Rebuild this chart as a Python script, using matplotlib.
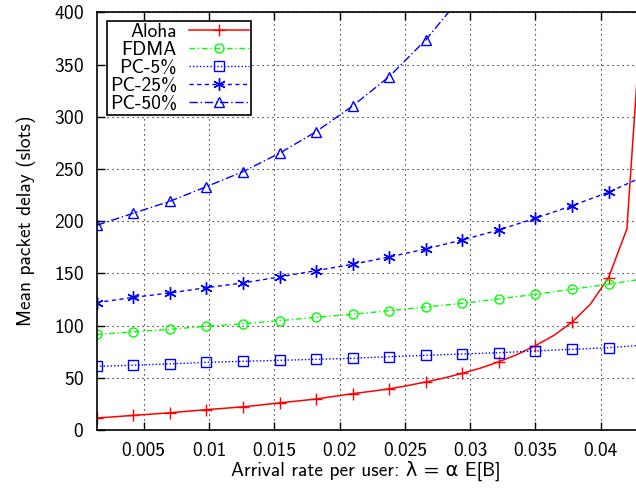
import matplotlib
matplotlib.use("Agg")
import matplotlib.pyplot as plt

plt.rcParams['font.family'] = ['cmss10', 'DejaVu Sans']
plt.rcParams['axes.formatter.use_mathtext'] = True
plt.rcParams['axes.unicode_minus'] = False

# arrival rate (x) for the marked points
rate = [0.0014, 0.0042, 0.0070, 0.0098, 0.0126, 0.0154, 0.0182, 0.0210,
        0.0238, 0.0266, 0.0294, 0.0322, 0.0350, 0.0378, 0.0406, 0.0434]

# Aloha is drawn on a finer grid (markers on every other point)
aloha_rate = [0.0014, 0.0028, 0.0042, 0.0056, 0.0070, 0.0084, 0.0098, 0.0112,
              0.0126, 0.0140, 0.0154, 0.0168, 0.0182, 0.0196, 0.0210, 0.0224,
              0.0238, 0.0252, 0.0266, 0.0280, 0.0294, 0.0308, 0.0322, 0.0336,
              0.0350, 0.0364, 0.0378, 0.0392, 0.0406, 0.0420, 0.0434]
aloha = [11.5, 12.7, 14.0, 15.2, 16.5, 18.0, 19.5, 20.8, 22.2, 24.0, 26.0,
         27.8, 29.7, 32.2, 34.8, 37.0, 39.4, 42.5, 46.0, 49.8, 54.3, 59.3,
         65.4, 72.3, 80.8, 90.5, 103.2, 120.4, 146.0, 192.5, 450.0]

fdma = [91.5, 94.0, 96.4, 99.4, 101.7, 104.7, 107.9, 110.8, 114.2, 117.8,
        121.3, 125.5, 130.0, 134.8, 139.6, 145.0]
pc5 = [61.0, 62.0, 63.3, 64.8, 65.8, 66.7, 67.7, 68.7, 70.2, 71.5, 72.8,
       74.0, 75.7, 77.3, 78.8, 81.5]
pc25 = [122.0, 127.0, 131.2, 136.3, 140.8, 146.6, 152.6, 158.7, 165.7, 173.4,
        182.0, 191.6, 202.8, 214.8, 227.7, 243.5]
pc50 = [196.0, 207.6, 219.0, 233.0, 247.4, 265.0, 285.7, 310.3, 338.4, 373.6,
        416.0]

xticks = [0.005, 0.01, 0.015, 0.02, 0.025, 0.03, 0.035, 0.04]
xtick_labels = ['0.005', '0.01', '0.015', '0.02', '0.025', '0.03', '0.035', '0.04']
yticks = [0, 50, 100, 150, 200, 250, 300, 350, 400]

fig = plt.figure(figsize=(6.36, 4.93), dpi=100)
ax = fig.add_axes([96.7 / 636, 1 - 430 / 493, 1 - 96.7 / 636, (430 - 12.3) / 493])

ms = 6.5
ax.plot(aloha_rate, aloha, color='red', lw=1.1, marker='+', ms=9, mew=1,
        markevery=2, label='Aloha')
ax.plot(rate, fdma, color=(0, 1, 0), lw=1, ls=(0, (4, 2, 1, 2)), marker='o',
        ms=ms, mfc='none', mew=1, label='FDMA')
ax.plot(rate, pc5, color='blue', lw=1, ls=(0, (1, 1.5)), marker='s',
        ms=ms, mfc='none', mew=1, label='PC-5%')
ax.plot(rate, pc25, color='blue', lw=1, ls=(0, (3, 2.5)), marker=(6, 2, 0),
        ms=9, mew=1, label='PC-25%')
ax.plot(rate[:len(pc50)], pc50, color='blue', lw=1, ls=(0, (6, 2, 1, 2)),
        marker='^', ms=ms, mfc='none', mew=1, label='PC-50%')

ax.set_xlim(0.0014, 0.0427)
ax.set_ylim(0, 400)
ax.set_xticks(xticks)
ax.set_xticklabels(xtick_labels)
ax.set_yticks(yticks)
ax.grid(True, color='black', ls=(0, (1, 3.5)), lw=0.8)
ax.tick_params(direction='in', length=6, width=1, labelsize=14, pad=9,
               top=True, right=False)
for s in ['left', 'bottom', 'top']:
    ax.spines[s].set_linewidth(1.2)
ax.spines['right'].set_visible(False)

ax.set_xlabel('Arrival rate per user: λ = α E[B]', fontsize=14, labelpad=0)
ax.set_ylabel('Mean packet delay (slots)', fontsize=14, labelpad=13)

leg = ax.legend(loc='upper left', bbox_to_anchor=(107.3 / 636, 1 - 20.7 / 493),
                bbox_transform=fig.transFigure, borderaxespad=0,
                markerfirst=False, fancybox=False, edgecolor='black',
                framealpha=1, fontsize=14, handlelength=3.1,
                handletextpad=0.6, labelspacing=0.0, borderpad=0.12)
leg.get_frame().set_linewidth(1.2)

fig.savefig('out.png', dpi=100)
